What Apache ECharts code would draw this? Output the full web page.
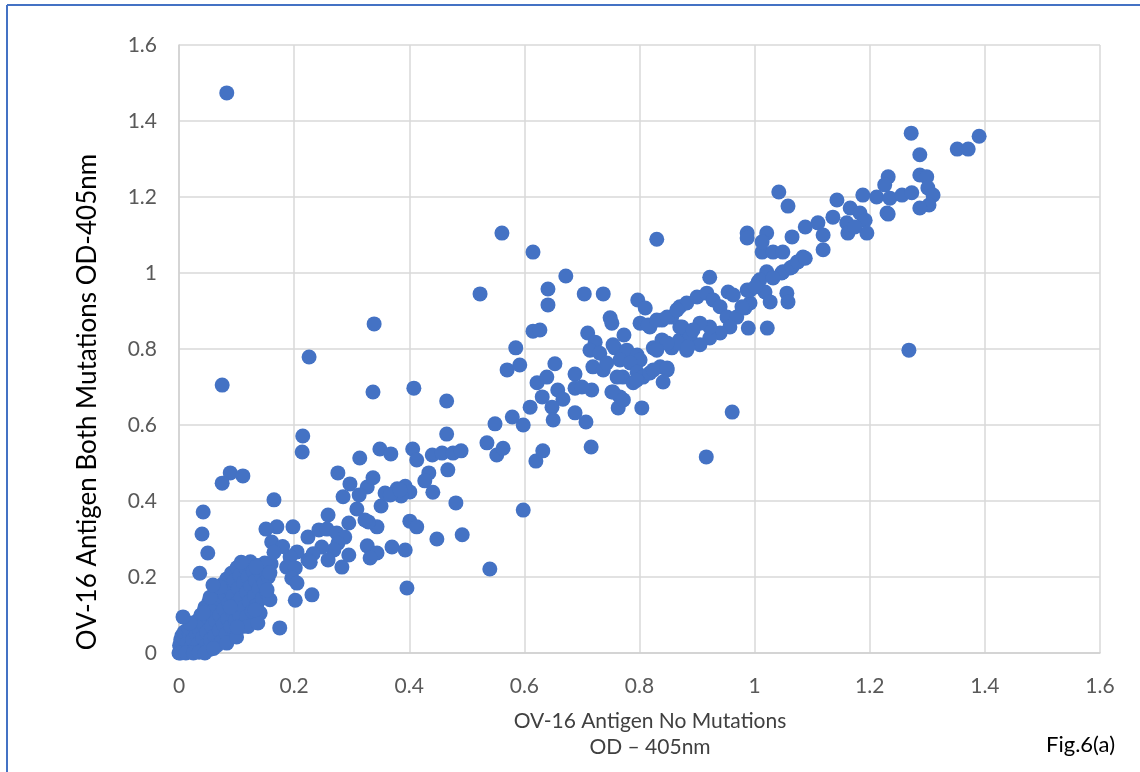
<!DOCTYPE html>
<html>
<head>
<meta charset="utf-8">
<script src="https://cdn.jsdelivr.net/npm/echarts@6/dist/echarts.min.js"></script>
<style>
html,body{margin:0;padding:0;background:#fff;}
#chart{width:1140px;height:772px;}
</style>
</head>
<body>
<div id="chart"></div>
<script>
// ---- data (x: no mutations OD, y: both mutations OD) ----
const tickValues = [0, 0.2, 0.4, 0.6, 0.8, 1, 1.2, 1.4, 1.6];
const tickLabels = ['0', '0.2', '0.4', '0.6', '0.8', '1', '1.2', '1.4', '1.6'];

const clusterNearOrigin = [
[0,0],[0.002,0.005],[0.004,0.012],[0.001,0.02],[0.006,0.028],[0.003,0.035],[0.008,0.002],[0.01,0.015],[0.012,0.04],[0.005,0.045],
[0.009,0.055],[0.015,0.008],[0.014,0.025],[0.018,0.05],[0.02,0.003],[0.022,0.018],[0.017,0.065],[0.024,0.035],[0.026,0.07],[0.028,0.01],
[0.03,0.048],[0.032,0.085],[0.034,0.025],[0.036,0.06],[0.038,0.1],[0.04,0.005],[0.041,0.04],[0.043,0.075],[0.045,0.12],[0.047,0.02],
[0.048,0.055],[0.05,0.095],[0.052,0.135],[0.054,0.01],[0.055,0.035],[0.057,0.07],[0.058,0.11],[0.06,0.15],[0.062,0.045],[0.064,0.085],
[0.065,0.125],[0.066,0.02],[0.068,0.165],[0.07,0.06],[0.071,0.1],[0.072,0.14],[0.074,0.03],[0.075,0.18],[0.077,0.075],[0.078,0.115],
[0.08,0.155],[0.082,0.05],[0.083,0.195],[0.085,0.09],[0.086,0.13],[0.088,0.17],[0.09,0.07],[0.091,0.21],[0.093,0.11],[0.094,0.15],
[0.096,0.19],[0.098,0.085],[0.1,0.13],[0.101,0.225],[0.103,0.17],[0.105,0.1],[0.106,0.205],[0.108,0.145],[0.11,0.07],[0.112,0.185],
[0.113,0.12],[0.115,0.225],[0.117,0.16],[0.118,0.095],[0.12,0.2],[0.122,0.135],[0.124,0.24],[0.125,0.175],[0.127,0.11],[0.129,0.215],
[0.131,0.15],[0.133,0.19],[0.135,0.125],[0.137,0.23],[0.139,0.17],[0.141,0.105],[0.143,0.205],[0.145,0.145],[0.148,0.185],[0.15,0.225],
[0.152,0.16],[0.155,0.2],[0.158,0.14],[0.16,0.235],[0.003,0.0],[0.012,0.0],[0.025,0.0],[0.035,0.002],[0.045,0.0],[0.06,0.012],
[0.083,0.026],[0.1,0.042],[0.12,0.07],[0.019,0.079],[0.042,0.105],[0.054,0.147],[0.071,0.174],[0.089,0.121],[0.101,0.068],[0.059,0.179]
];

const lowBand = [
[0.215,0.571],[0.214,0.529],[0.314,0.513],[0.349,0.537],[0.368,0.524],[0.406,0.537],[0.413,0.508],[0.465,0.576],[0.44,0.521],[0.457,0.526],
[0.476,0.526],[0.49,0.532],[0.467,0.482],[0.434,0.474],[0.427,0.453],[0.441,0.423],[0.481,0.395],[0.492,0.311],[0.448,0.3],[0.393,0.271],
[0.37,0.279],[0.327,0.282],[0.344,0.263],[0.332,0.25],[0.295,0.258],[0.401,0.347],[0.413,0.332],[0.344,0.332],[0.329,0.345],[0.295,0.342],
[0.309,0.379],[0.351,0.387],[0.285,0.411],[0.297,0.445],[0.276,0.474],[0.327,0.437],[0.337,0.461],[0.313,0.416],[0.358,0.421],[0.379,0.432],
[0.393,0.439],[0.401,0.424],[0.386,0.413],[0.367,0.416],[0.259,0.363],[0.224,0.305],[0.198,0.332],[0.17,0.332],[0.151,0.326],[0.161,0.292],
[0.243,0.324],[0.257,0.326],[0.274,0.316],[0.288,0.305],[0.276,0.289],[0.269,0.271],[0.248,0.279],[0.233,0.261],[0.224,0.245],[0.205,0.266],
[0.193,0.253],[0.187,0.226],[0.259,0.245],[0.283,0.226],[0.165,0.403],[0.089,0.474],[0.111,0.466],[0.075,0.447],[0.042,0.371],[0.04,0.313],
[0.05,0.263],[0.036,0.21],[0.108,0.239],[0.149,0.237],[0.134,0.226],[0.202,0.224],[0.196,0.197],[0.202,0.139],[0.231,0.153],[0.175,0.066],
[0.137,0.079],[0.007,0.095],[0.205,0.184],[0.153,0.166],[0.158,0.211],[0.132,0.113],[0.228,0.239],[0.18,0.28],[0.165,0.265],[0.384,0.429],
[0.323,0.35]
];

const midBand = [
[0.549,0.603],[0.535,0.553],[0.552,0.521],[0.563,0.539],[0.57,0.745],[0.641,0.958],[0.641,0.916],[0.672,0.992],[0.704,0.945],[0.737,0.945],
[0.615,0.847],[0.627,0.85],[0.585,0.803],[0.592,0.758],[0.653,0.761],[0.622,0.711],[0.639,0.726],[0.658,0.692],[0.667,0.668],[0.61,0.647],
[0.631,0.674],[0.648,0.647],[0.65,0.613],[0.598,0.6],[0.579,0.621],[0.62,0.505],[0.632,0.532],[0.716,0.542],[0.688,0.632],[0.707,0.608],
[0.688,0.734],[0.688,0.697],[0.717,0.692],[0.7,0.7],[0.71,0.842],[0.723,0.818],[0.714,0.797],[0.731,0.789],[0.719,0.753],[0.737,0.745],
[0.752,0.687],[0.766,0.674],[0.763,0.645],[0.804,0.645],[0.749,0.882],[0.752,0.868],[0.773,0.837],[0.757,0.803],[0.778,0.797],[0.796,0.784],
[0.801,0.771],[0.766,0.771],[0.784,0.763],[0.796,0.739],[0.806,0.726],[0.771,0.726],[0.789,0.711],[0.818,0.737],[0.836,0.753],[0.848,0.745],
[0.841,0.713],[0.824,0.803],[0.839,0.824],[0.856,0.803],[0.87,0.824],[0.882,0.797],[0.884,0.842],[0.87,0.858],[0.797,0.929],[0.81,0.908],
[0.801,0.868],[0.818,0.858],[0.839,0.876],[0.856,0.884],[0.87,0.911],[0.882,0.921],[0.754,0.811],[0.743,0.763],[0.761,0.726],[0.795,0.718],
[0.754,0.687],[0.772,0.666],[0.815,0.863],[0.83,0.876],[0.848,0.884],[0.865,0.903],[0.874,0.858],[0.888,0.832],[0.867,0.816],[0.848,0.816],
[0.83,0.797],[0.824,0.745],[0.848,0.75]
];

const highBand = [
[0.9,0.937],[0.922,0.989],[0.917,0.947],[0.928,0.929],[0.954,0.95],[0.963,0.942],[0.94,0.911],[0.952,0.884],[0.969,0.884],[0.983,0.908],
[0.992,0.921],[0.957,0.858],[0.94,0.842],[0.922,0.829],[0.905,0.811],[0.884,0.805],[0.922,0.858],[0.905,0.868],[0.893,0.85],[0.989,0.855],
[1.022,0.855],[0.992,0.955],[1.006,0.976],[1.021,1.003],[1.018,0.95],[1.027,0.924],[1.056,0.947],[1.058,0.924],[1.047,1.0],[1.062,1.013],
[1.074,1.029],[1.084,1.042],[1.013,1.055],[1.032,1.055],[1.049,1.055],[0.987,1.105],[0.987,1.092],[1.021,1.105],[1.065,1.095],[1.088,1.121],
[1.042,1.213],[1.058,1.176],[1.013,1.082],[1.11,1.132],[1.119,1.1],[1.119,1.061],[1.136,1.147],[1.143,1.192],[1.16,1.132],[1.166,1.171],
[1.183,1.158],[1.192,1.139],[1.195,1.105],[1.162,1.105],[1.174,1.121],[1.188,1.205],[1.212,1.2],[1.232,1.253],[1.226,1.232],[1.235,1.197],
[1.256,1.205],[1.273,1.211],[1.232,1.155],[1.287,1.258],[1.299,1.253],[1.301,1.224],[1.31,1.205],[1.303,1.179],[1.287,1.171],[1.23,1.158],
[1.272,1.368],[1.352,1.326],[1.371,1.326],[1.39,1.36],[1.287,1.311],[0.978,0.911],[0.987,0.955],[1.009,0.982],[1.001,0.963],[1.049,1.003],
[1.065,1.016],[1.075,1.029],[1.088,1.039],[1.032,0.987]
];

const outliers = [
[0.083,1.474],[0.075,0.705],[0.226,0.779],[0.339,0.866],[0.337,0.687],[0.408,0.697],[0.465,0.663],[1.268,0.797],[0.961,0.634],[0.916,0.516],
[0.54,0.221],[0.396,0.171],[0.598,0.376],[0.523,0.945],[0.561,1.105],[0.615,1.055],[0.83,1.089]
];

const xTitle = 'OV-16 Antigen No Mutations\nOD \u2013 405nm';
const yTitle = 'OV-16 Antigen Both Mutations OD-405nm';
const figLabel = 'Fig.6(a)';

const allPoints = clusterNearOrigin.concat(lowBand, midBand, highBand, outliers);

const FONT = 'Lato, "Open Sans", sans-serif';
const labelFmt = v => {
  const i = tickValues.findIndex(t => Math.abs(t - v) < 1e-9);
  return i >= 0 ? tickLabels[i] : '';
};

const chart = echarts.init(document.getElementById('chart'), null, {renderer: 'canvas'});
chart.setOption({
  animation: false,
  backgroundColor: '#ffffff',
  grid: {left: 179, right: 40, top: 45, bottom: 119, containLabel: false},
  xAxis: {
    type: 'value', min: 0, max: 1.6, interval: 0.2,
    axisLine: {show: true, lineStyle: {color: '#d0d0d0', width: 1.5}},
    axisTick: {show: false},
    axisLabel: {formatter: labelFmt, color: '#595959', fontSize: 21, fontFamily: FONT, margin: 23},
    splitLine: {show: true, lineStyle: {color: '#d9d9d9', width: 1.5}}
  },
  yAxis: {
    type: 'value', min: 0, max: 1.6, interval: 0.2,
    axisLine: {show: true, lineStyle: {color: '#d0d0d0', width: 1.5}},
    axisTick: {show: false},
    axisLabel: {formatter: labelFmt, color: '#595959', fontSize: 21, fontFamily: FONT, margin: 22},
    splitLine: {show: true, lineStyle: {color: '#d9d9d9', width: 1.5}}
  },
  series: [{
    type: 'scatter',
    data: allPoints,
    symbol: 'circle',
    symbolSize: 15,
    itemStyle: {color: '#4472C4', opacity: 1},
    emphasis: {disabled: true}
  }],
  graphic: [
    {type: 'line', shape: {x1: 7, y1: 5, x2: 7, y2: 772}, style: {stroke: '#4472C4', lineWidth: 2}, silent: true},
    {type: 'line', shape: {x1: 7, y1: 5, x2: 1140, y2: 5}, style: {stroke: '#4472C4', lineWidth: 2}, silent: true},
    {type: 'text', x: 88, y: 402, rotation: Math.PI / 2, silent: true,
     style: {text: yTitle, fill: '#000000', fontSize: 26, fontFamily: FONT, align: 'center', verticalAlign: 'middle'}},
    {type: 'text', x: 650, y: 734, silent: true,
     style: {text: xTitle, fill: '#404040', fontSize: 21, lineHeight: 26, fontFamily: FONT, align: 'center', verticalAlign: 'middle'}},
    {type: 'text', x: 1115, y: 745, silent: true,
     style: {text: figLabel, fill: '#000000', fontSize: 22, fontFamily: FONT, align: 'right', verticalAlign: 'middle'}}
  ]
});
</script>
</body>
</html>
